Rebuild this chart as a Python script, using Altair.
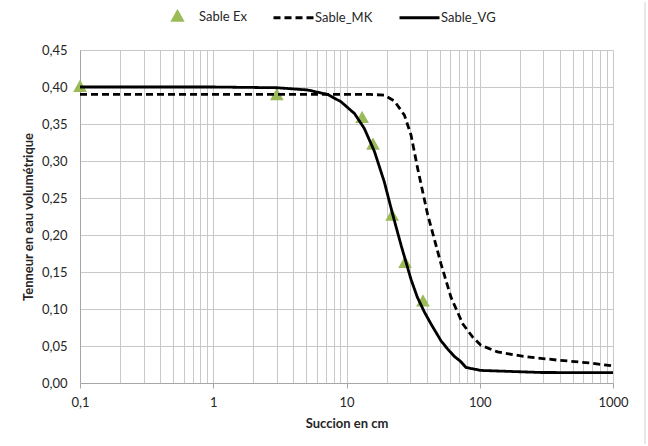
import altair as alt
import pandas as pd

# Measured points (Sable Ex)
ex_x = [0.1, 3.0, 13.1, 15.8, 22.0, 27.5, 37.5]
ex_y = [0.400, 0.389, 0.358, 0.322, 0.226, 0.162, 0.110]

# Sable_MK curve
mk_x = [0.1, 1, 5, 10, 15, 19.2, 22.9, 27.2, 30.5, 34.2, 40.6, 44.3, 51.2, 60.8, 74.5, 88.5, 102, 136, 213, 379, 680, 1000]
mk_y = [0.390, 0.390, 0.390, 0.390, 0.390, 0.389, 0.381, 0.362, 0.335, 0.290, 0.228, 0.203, 0.161, 0.116, 0.080, 0.062, 0.051, 0.042, 0.036, 0.031, 0.027, 0.023]

# Sable_VG curve
vg_x = [0.1, 1, 3, 5.1, 7.2, 9.1, 11.5, 13.6, 16.2, 19.2, 22.2, 25.7, 30.5, 34.0, 38.4, 43, 51.2, 57.4, 64.4, 72.0, 78.8, 102, 288, 1000]
vg_y = [0.400, 0.400, 0.399, 0.396, 0.390, 0.380, 0.364, 0.344, 0.313, 0.272, 0.228, 0.186, 0.140, 0.116, 0.096, 0.080, 0.057, 0.046, 0.036, 0.029, 0.021, 0.017, 0.0142, 0.0140]

series_names = ["Sable Ex", "Sable_MK", "Sable_VG"]
series_colors = ["#9BBB59", "#000000", "#000000"]
triangle_path = "M0,-0.24L0.24,0.19L-0.24,0.19Z"
series_shapes = [triangle_path, "stroke", "stroke"]
series_dash = [[1, 0], [7, 4], [1, 0]]

x_major = [0.1, 1, 10, 100, 1000]
x_minor_mult = [1, 2, 3, 4, 5, 6, 7, 8, 9]
y_ticks = [0, 0.05, 0.10, 0.15, 0.20, 0.25, 0.30, 0.35, 0.40, 0.45]

x_values = []
for d in x_major[:-1]:
    for k in x_minor_mult:
        x_values.append(round(d * k, 6))
x_values.append(x_major[-1])

pts = pd.DataFrame({"x": ex_x, "y": ex_y, "series": "Sable Ex"})
lines = pd.concat([
    pd.DataFrame({"x": mk_x, "y": mk_y, "series": "Sable_MK"}),
    pd.DataFrame({"x": vg_x, "y": vg_y, "series": "Sable_VG"}),
])

FONT = "Lato"
TXT = "#262626"
SYM = 1600

legend = alt.Legend(
    title=None,
    orient="none",
    legendX=76,
    legendY=-55,
    direction="horizontal",
    symbolSize=SYM,
    symbolStrokeWidth=2.8,
    labelOffset=0,
    columnPadding=20,
    labelFont=FONT,
    labelFontSize=13,
    labelColor=TXT,
    symbolOpacity=1,
)

color_scale = alt.Scale(domain=series_names, range=series_colors)
shape_scale = alt.Scale(domain=series_names, range=series_shapes)
dash_scale = alt.Scale(domain=series_names, range=series_dash)

is_major = "abs(log(datum.value)/LN10 - round(log(datum.value)/LN10)) < 0.0001"

x_enc = alt.X(
    "x:Q",
    scale=alt.Scale(type="log", domain=[0.1, 1000], nice=False),
    axis=alt.Axis(
        values=x_values,
        labelExpr=f"({is_major}) ? replace(format(datum.value, '~g'), '.', ',') : ''",
        grid=True,
        gridColor="#c8c8c8",
        gridWidth=1,
        domainColor="#a6a6a6",
        tickColor="#a6a6a6",
        tickSize=5,
        tickOpacity={"condition": {"test": is_major, "value": 1}, "value": 0},
        labelPadding=8,
        labelFont=FONT,
        labelFontSize=13,
        labelColor=TXT,
        labelFlush=False,
        title="Succion en cm",
        titleFont=FONT,
        titleFontSize=13,
        titleFontWeight="bold",
        titleColor=TXT,
        titlePadding=8,
    ),
)
y_enc = alt.Y(
    "y:Q",
    scale=alt.Scale(domain=[0, 0.45], nice=False),
    axis=alt.Axis(
        values=y_ticks,
        labelExpr="replace(format(datum.value, '.2f'), '.', ',')",
        grid=True,
        gridColor="#c8c8c8",
        gridWidth=1,
        domainColor="#a6a6a6",
        ticks=False,
        labelPadding=13,
        labelFont=FONT,
        labelFontSize=13,
        labelColor=TXT,
        title="Tenneur en eau volumétrique",
        titleFont=FONT,
        titleFontSize=13,
        titleFontWeight="bold",
        titleColor=TXT,
        titlePadding=6,
    ),
)

point_layer = alt.Chart(pts).mark_point(
    filled=True, opacity=1, size=SYM, stroke="#9BBB59", strokeWidth=2.4
).encode(
    x=x_enc,
    y=y_enc,
    color=alt.Color("series:N", scale=color_scale, legend=legend),
    shape=alt.Shape("series:N", scale=shape_scale, legend=legend),
)

line_layer = alt.Chart(lines).mark_line(strokeWidth=2.8, clip=True).encode(
    x=x_enc,
    y=y_enc,
    color=alt.Color("series:N", scale=color_scale, legend=legend),
    strokeDash=alt.StrokeDash("series:N", scale=dash_scale, legend=legend),
)

border = alt.Chart(pd.DataFrame({"a": [0]})).mark_rule(color="#d0d0d0", strokeWidth=1).encode(
    x=alt.value(565), y=alt.value(-48), y2=alt.value(394)
)

chart = alt.layer(point_layer, line_layer, border).properties(
    width=533,
    height=333,
    autosize=alt.AutoSizeParams(type="none"),
    padding={"left": 80, "top": 50, "right": 35, "bottom": 63},
    background="white",
).configure_view(stroke=None)

chart.save("out.html", embed_options={"renderer": "svg", "actions": False})
